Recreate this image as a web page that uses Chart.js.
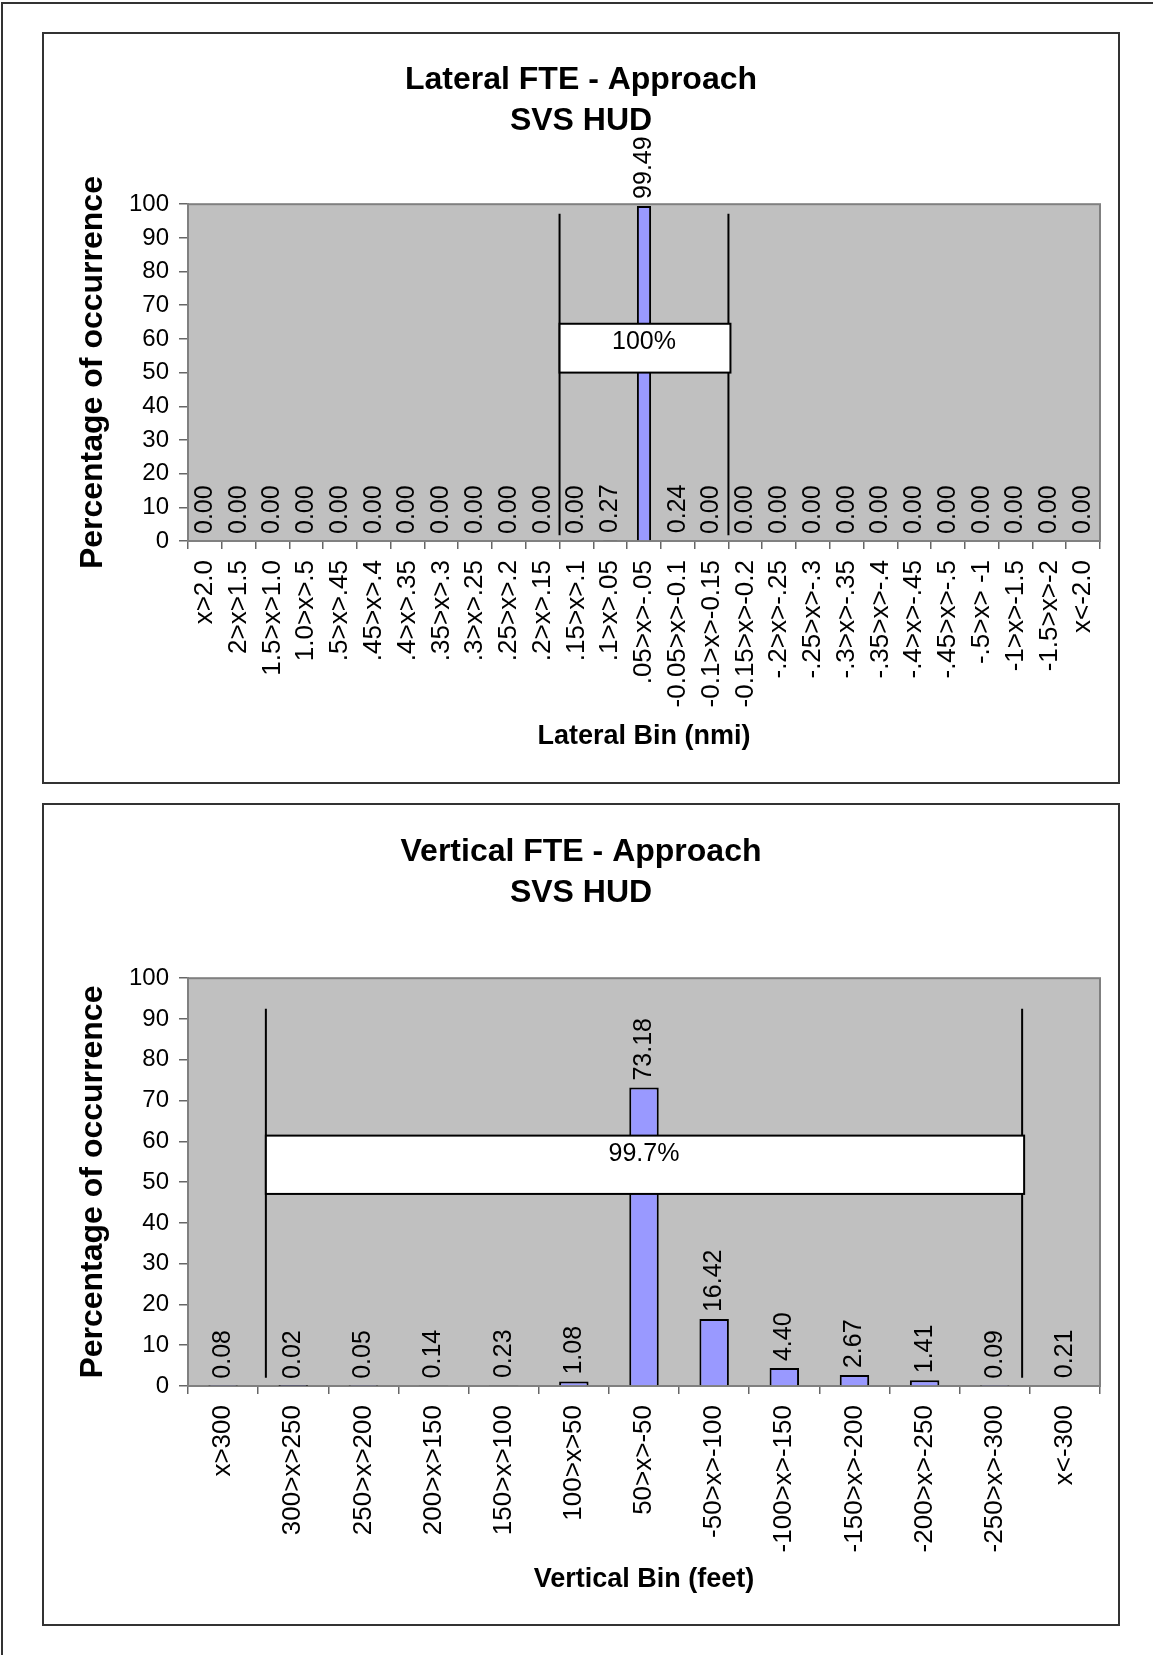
<!DOCTYPE html>
<html lang="en">
<head>
    <meta charset="UTF-8">
    <title>Lateral / Vertical FTE - Approach, SVS HUD</title>
    <script src="https://cdn.jsdelivr.net/npm/chart.js"></script>
    <style>
        body { margin: 0; background: #fff; }
        .page { position: relative; width: 1153px; height: 1655px; overflow: hidden; }
        .edge { position: absolute; left: 1px; top: 2px; right: -10px; bottom: -10px;
                border-top: 2px solid #333; border-left: 2px solid #333; }
        .panel { position: absolute; left: 42px; width: 1078px; box-sizing: border-box;
                 border: 2px solid #333; background: #fff; }
        .panel div { position: relative; width: 1074px; }
    </style>
</head>
<body>
<div class="page">
    <div class="edge"></div>
    <div class="panel" style="top:32px;height:752px"><div style="height:748px"><canvas id="lateralChart"></canvas></div></div>
    <div class="panel" style="top:803px;height:823px"><div style="height:819px"><canvas id="verticalChart"></canvas></div></div>
</div>

<script>
    // Datos: bins y porcentajes
    const lateralBins = ['x>2.0', '2>x>1.5', '1.5>x>1.0', '1.0>x>.5', '.5>x>.45', '.45>x>.4', '.4>x>.35',
        '.35>x>.3', '.3>x>.25', '.25>x>.2', '.2>x>.15', '.15>x>.1', '.1>x>.05', '.05>x>-.05',
        '-0.05>x>-0.1', '-0.1>x>-0.15', '-0.15>x>-0.2', '-.2>x>-.25', '-.25>x>-.3', '-.3>x>-.35',
        '-.35>x>-.4', '-.4>x>-.45', '-.45>x>-.5', '-.5>x> -1', '-1>x>-1.5', '-1.5>x>-2', 'x<-2.0'];
    const lateralPct = [0, 0, 0, 0, 0, 0, 0, 0, 0, 0, 0, 0, 0.27, 99.49, 0.24, 0, 0, 0, 0, 0, 0, 0, 0, 0, 0, 0, 0];

    const verticalBins = ['x>300', '300>x>250', '250>x>200', '200>x>150', '150>x>100', '100>x>50',
        '50>x>-50', '-50>x>-100', '-100>x>-150', '-150>x>-200', '-200>x>-250', '-250>x>-300', 'x<-300'];
    const verticalPct = [0.08, 0.02, 0.05, 0.14, 0.23, 1.08, 73.18, 16.42, 4.40, 2.67, 1.41, 0.09, 0.21];

    const yTicks = [0, 10, 20, 30, 40, 50, 60, 70, 80, 90, 100];

    // Corchetes (en unidades de categoria / porcentaje)
    const lateralBracketX = [10.5, 15.5];
    const lateralBracketY = [1.7, 97.2];
    const lateralBoxY = [50.0, 64.5];
    const lateralBoxText = '100%';

    const verticalBracketX = [0.61, 11.39];
    const verticalBracketY = [2.0, 92.5];
    const verticalBoxY = [47.1, 61.4];
    const verticalBoxText = '99.7%';

    const FONT = "'Liberation Sans', Arial, Helvetica, sans-serif";

    // fondo gris del area de trazado
    const plotBg = {
        id: 'plotBg',
        beforeDraw(chart) {
            const { ctx, chartArea: a } = chart;
            ctx.save();
            ctx.fillStyle = '#C0C0C0';
            ctx.fillRect(a.left, a.top, a.width, a.height);
            ctx.strokeStyle = '#808080';
            ctx.lineWidth = 2;
            ctx.strokeRect(a.left, a.top, a.width, a.height);
            ctx.restore();
        }
    };

    // lineas verticales + caja blanca con el porcentaje, y etiquetas de valor
    function overlay(bx, by, boxY, boxText, values) {
        return {
            id: 'overlay',
            afterDatasetsDraw(chart) {
                const { ctx, scales: { x, y } } = chart;
                const x0 = x.getPixelForValue(bx[0]);
                const x1 = x.getPixelForValue(bx[1]);
                ctx.save();
                ctx.strokeStyle = '#000';
                ctx.lineWidth = 2;
                ctx.beginPath();
                [x0, x1].forEach(px => {
                    ctx.moveTo(px, y.getPixelForValue(by[1]));
                    ctx.lineTo(px, y.getPixelForValue(by[0]));
                });
                ctx.stroke();

                const top = y.getPixelForValue(boxY[1]);
                const bot = y.getPixelForValue(boxY[0]);
                ctx.fillStyle = '#fff';
                ctx.fillRect(x0, top, x1 - x0 + 2, bot - top);
                ctx.strokeRect(x0, top, x1 - x0 + 2, bot - top);
                ctx.fillStyle = '#000';
                ctx.font = '25px ' + FONT;
                ctx.textAlign = 'center';
                ctx.textBaseline = 'middle';
                ctx.fillText(boxText, (x0 + x1) / 2, top + 18);

                // etiquetas de datos rotadas
                const meta = chart.getDatasetMeta(0);
                ctx.textAlign = 'left';
                meta.data.forEach((bar, i) => {
                    ctx.save();
                    ctx.translate(bar.x, bar.y - 7);
                    ctx.rotate(-Math.PI / 2);
                    ctx.fillText(values[i].toFixed(2), 0, 0);
                    ctx.restore();
                });
                ctx.restore();
            }
        };
    }

    function makeChart(id, bins, values, title, xTitle, dims, extra) {
        return new Chart(document.getElementById(id), {
            type: 'bar',
            data: {
                labels: bins,
                datasets: [{
                    data: values,
                    backgroundColor: '#9999FF',
                    borderColor: '#000',
                    borderWidth: 2,
                    barPercentage: 0.42,
                    categoryPercentage: 1
                }]
            },
            options: {
                responsive: true,
                maintainAspectRatio: false,
                animation: false,
                layout: { padding: 0 },
                plugins: {
                    legend: { display: false },
                    tooltip: { enabled: false },
                    title: {
                        display: true,
                        text: title,
                        color: '#000',
                        font: { family: FONT, size: 32, weight: 'bold', lineHeight: 1.3 },
                        padding: { top: dims.titleTop, bottom: dims.titleBottom }
                    }
                },
                scales: {
                    x: {
                        grid: { offset: true, drawOnChartArea: false, tickLength: 8, color: '#666', lineWidth: 1.5 },
                        border: { color: '#808080', width: 2 },
                        ticks: {
                            autoSkip: false, minRotation: 90, maxRotation: 90, padding: 11,
                            color: '#000', font: { family: FONT, size: 26, lineHeight: 0.9 }
                        },
                        title: {
                            display: true, text: xTitle, color: '#000',
                            font: { family: FONT, size: 27, weight: 'bold', lineHeight: 1.2 },
                            padding: { top: 0, bottom: dims.xTitleBottom }
                        },
                        afterFit: s => { s.height = dims.xHeight; }
                    },
                    y: {
                        min: 0, max: 100,
                        afterBuildTicks: s => { s.ticks = yTicks.map(v => ({ value: v })); },
                        grid: { drawOnChartArea: false, tickLength: 9, color: '#666', lineWidth: 1.5 },
                        border: { color: '#808080', width: 2 },
                        ticks: { padding: 10, color: '#000', font: { family: FONT, size: 24 } },
                        title: {
                            display: true, text: 'Percentage of occurrence', color: '#000',
                            font: { family: FONT, size: 32, weight: 'bold', lineHeight: 1.2 },
                            padding: { top: 30, bottom: 0 }
                        },
                        afterFit: s => { s.width = 144; }
                    },
                    // margen derecho vacio (mantiene el titulo centrado en el panel)
                    gap: {
                        position: 'right',
                        grid: { display: false },
                        border: { display: false },
                        ticks: { display: false },
                        afterFit: s => { s.width = 18; }
                    }
                }
            },
            plugins: [plotBg, extra]
        });
    }

    makeChart('lateralChart', lateralBins, lateralPct,
        ['Lateral FTE - Approach', 'SVS HUD'], 'Lateral Bin (nmi)',
        { titleTop: 25, titleBottom: 62, xHeight: 241, xTitleBottom: 29 },
        overlay(lateralBracketX, lateralBracketY, lateralBoxY, lateralBoxText, lateralPct));

    makeChart('verticalChart', verticalBins, verticalPct,
        ['Vertical FTE - Approach', 'SVS HUD'], 'Vertical Bin (feet)',
        { titleTop: 26, titleBottom: 64, xHeight: 238, xTitleBottom: 28 },
        overlay(verticalBracketX, verticalBracketY, verticalBoxY, verticalBoxText, verticalPct));
</script>
</body>
</html>
